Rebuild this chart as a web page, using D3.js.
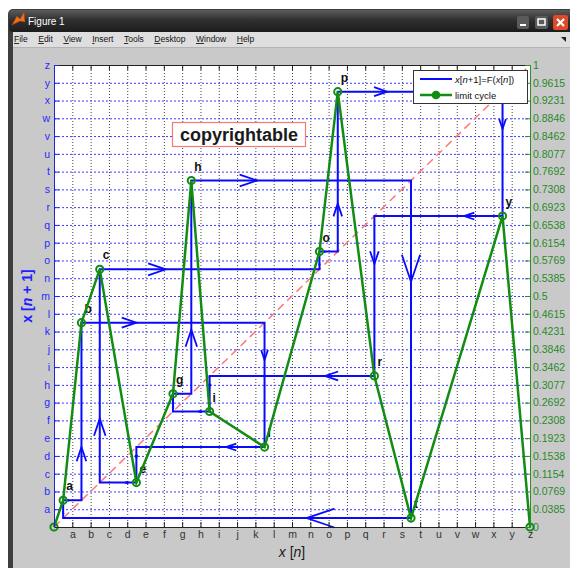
<!DOCTYPE html>
<html>
<head>
<meta charset="utf-8">
<script src="https://cdn.jsdelivr.net/npm/d3@7"></script>
<style>
    body { margin: 0; background: #fff; }
    svg { display: block; font-family: "Liberation Sans", Arial, sans-serif; }
</style>
</head>
<body>
<svg id="fig" width="570" height="568"></svg>
<script>
// Tick labels: letters on the bottom/left axes, k/26 on the right axis.
const LETTERS = ["a", "b", "c", "d", "e", "f", "g", "h", "i", "j", "k", "l", "m",
    "n", "o", "p", "q", "r", "s", "t", "u", "v", "w", "x", "y", "z"];
const RIGHT_TICKS = ["0", "0.0385", "0.0769", "0.1154", "0.1538", "0.1923", "0.2308",
    "0.2692", "0.3077", "0.3462", "0.3846", "0.4231", "0.4615", "0.5", "0.5385",
    "0.5769", "0.6154", "0.6538", "0.6923", "0.7308", "0.7692", "0.8077", "0.8462",
    "0.8846", "0.9231", "0.9615", "1"];

// Break points of the map F (green curve), in letter units.
const cycleX = [0, 0.5, 1.5, 2.5, 4.5, 6.5, 7.5, 8.5, 11.5, 14.5, 15.5, 17.5, 19.5, 24.5, 26];
const cycleY = [0, 1.5, 11.5, 14.5, 2.5, 7.5, 19.5, 6.5, 4.5, 15.5, 24.5, 8.5, 0.5, 17.5, 0];
const cycleNames = ["", "a", "b", "c", "e", "g", "h", "i", "l", "o", "p", "r", "t", "y", ""];

const MENU = ["File", "Edit", "View", "Insert", "Tools", "Desktop", "Window", "Help"];

const svg = d3.select("#fig");

// ---- window chrome ----
const defs = svg.append("defs");
const grad = defs.append("linearGradient").attr("id", "titleGrad")
    .attr("x1", 0).attr("y1", 0).attr("x2", 0).attr("y2", 1);
grad.append("stop").attr("offset", "0%").attr("stop-color", "#5c5c5c");
grad.append("stop").attr("offset", "45%").attr("stop-color", "#303030");
grad.append("stop").attr("offset", "100%").attr("stop-color", "#1c1c1c");

svg.append("rect").attr("x", 8).attr("y", 9).attr("width", 570).attr("height", 570)
    .attr("rx", 5).attr("fill", "#3e3e3e");
svg.append("rect").attr("x", 9).attr("y", 10).attr("width", 570).attr("height", 22)
    .attr("rx", 4).attr("fill", "url(#titleGrad)");
svg.append("rect").attr("x", 13).attr("y", 32).attr("width", 560).attr("height", 15)
    .attr("fill", "#dedede");
svg.append("rect").attr("x", 13).attr("y", 47).attr("width", 560).attr("height", 530)
    .attr("fill", "#c9c9c9");
svg.append("line").attr("x1", 13).attr("x2", 570).attr("y1", 47.5).attr("y2", 47.5)
    .attr("stroke", "#b4b4b4");

// MATLAB icon
svg.append("path").attr("d", "M12,25 L17,16 L20,19 L24,12 L25,22 L20,21 Z")
    .attr("fill", "#e8721c").attr("stroke", "#b03a10").attr("stroke-width", 0.6);
svg.append("text").attr("x", 28).attr("y", 25).attr("fill", "#fff")
    .style("font-size", "10px").text("Figure 1");

// window buttons
svg.append("rect").attr("x", 517).attr("y", 16).attr("width", 12).attr("height", 13)
    .attr("rx", 2).attr("fill", "#5a5a5a");
svg.append("rect").attr("x", 520).attr("y", 24).attr("width", 6).attr("height", 2).attr("fill", "#fff");
svg.append("rect").attr("x", 535).attr("y", 16).attr("width", 13).attr("height", 13)
    .attr("rx", 2).attr("fill", "#5a5a5a");
svg.append("rect").attr("x", 538).attr("y", 19).attr("width", 7).attr("height", 6)
    .attr("fill", "none").attr("stroke", "#fff").attr("stroke-width", 1.5);
svg.append("rect").attr("x", 553).attr("y", 15).attr("width", 15).attr("height", 15)
    .attr("rx", 2).attr("fill", "#dc4a2a");
svg.append("path").attr("d", "M557,19 L564,26 M564,19 L557,26")
    .attr("stroke", "#fff").attr("stroke-width", 2.2);

// menu bar
let mx = 14;
MENU.forEach(m => {
    const t = svg.append("text").attr("x", mx).attr("y", 42).attr("fill", "#111")
        .style("font-size", "8.5px");
    t.append("tspan").style("text-decoration", "underline").text(m[0]);
    t.append("tspan").text(m.slice(1));
    mx += t.node().getComputedTextLength() + 10.5;
});
svg.append("path").attr("d", "M561,37 L566,37 L566,42 Z").attr("fill", "#222");

// ---- axes ----
const x = d3.scaleLinear().domain([0, 26]).range([54, 530]);
const y = d3.scaleLinear().domain([0, 26]).range([527, 65]);

const plot = svg.append("g");
plot.append("rect").attr("x", x(0)).attr("y", y(26))
    .attr("width", x(26) - x(0)).attr("height", y(0) - y(26)).attr("fill", "#fff");

// grid: dotted black verticals, dotted blue horizontals
plot.append("g").selectAll("line").data(d3.range(1, 26)).join("line")
    .attr("x1", d => x(d) + 0.5).attr("x2", d => x(d) + 0.5)
    .attr("y1", y(0)).attr("y2", y(26))
    .attr("stroke", "#444").attr("stroke-width", 1).attr("stroke-dasharray", "1,2");
plot.append("g").selectAll("line").data(d3.range(1, 26)).join("line")
    .attr("y1", d => y(d) + 0.5).attr("y2", d => y(d) + 0.5)
    .attr("x1", x(0)).attr("x2", x(26))
    .attr("stroke", "#3b3bff").attr("stroke-width", 1).attr("stroke-dasharray", "2,2");

// identity diagonal
plot.append("line")
    .attr("x1", x(0)).attr("y1", y(0)).attr("x2", x(26)).attr("y2", y(26))
    .attr("stroke", "#ff7878").attr("stroke-width", 1.5).attr("stroke-dasharray", "8,5");

// cobweb: iterate the map from point a until it returns
const F = new Map(cycleX.map((v, i) => [v, cycleY[i]]));
const start = cycleX[1];
const web = [[start, F.get(start)]];
let cur = start;
do {
    const v = F.get(cur);
    web.push([v, v]);
    web.push([v, F.get(v)]);
    cur = v;
} while (cur !== start && web.length < 200);

plot.append("path").datum(web)
    .attr("fill", "none").attr("stroke", "#0a0aff").attr("stroke-width", 2)
    .attr("d", d3.line().x(d => x(d[0])).y(d => y(d[1])));

// chevrons a quarter of the way along each step, sized by the step length
const arrows = d3.pairs(web).map(([p, q]) => {
    const x0 = x(p[0]), y0 = y(p[1]), x1 = x(q[0]), y1 = y(q[1]);
    const len = Math.hypot(x1 - x0, y1 - y0);
    const ux = (x1 - x0) / len, uy = (y1 - y0) / len;
    const tx = x0 + ux * len * 0.30, ty = y0 + uy * len * 0.30;
    const a = len * 0.08, w = len * 0.027;
    return `M${tx - ux * a - uy * w},${ty - uy * a + ux * w}L${tx},${ty}` +
        `L${tx - ux * a + uy * w},${ty - uy * a - ux * w}`;
});
plot.append("g").selectAll("path").data(arrows).join("path")
    .attr("d", d => d).attr("fill", "none")
    .attr("stroke", "#0a0aff").attr("stroke-width", 1.8);

// point names
plot.append("g").selectAll("text").data(cycleX.map((v, i) => i).filter(i => cycleNames[i]))
    .join("text")
    .attr("x", i => x(cycleX[i]) + 3).attr("y", i => y(cycleY[i]) - 10)
    .attr("fill", "#111").style("font-size", "12px").style("font-weight", "bold")
    .text(i => cycleNames[i]);

// limit cycle curve with open circles
const green = "#138c13";
plot.append("path").datum(cycleX.map((v, i) => [v, cycleY[i]]))
    .attr("fill", "none").attr("stroke", green).attr("stroke-width", 2.5)
    .attr("d", d3.line().x(d => x(d[0])).y(d => y(d[1])));
plot.append("g").selectAll("circle").data(cycleX.map((v, i) => [v, cycleY[i]])).join("circle")
    .attr("cx", d => x(d[0])).attr("cy", d => y(d[1])).attr("r", 3.6)
    .attr("fill", "none").attr("stroke", green).attr("stroke-width", 2);

// axes
const axBottom = plot.append("g").attr("transform", `translate(0,${y(0)})`)
    .call(d3.axisBottom(x).tickValues(d3.range(1, 27)).tickFormat(d => LETTERS[d - 1])
        .tickSizeInner(-5).tickSizeOuter(0).tickPadding(4));
axBottom.select(".domain").attr("stroke", "#222");
axBottom.selectAll(".tick line").attr("stroke", "#222");
axBottom.selectAll("text").attr("fill", "#333").style("font-size", "10.5px")
    .style("font-family", "'Liberation Sans', Arial, sans-serif");

const axTop = plot.append("g").attr("transform", `translate(0,${y(26)})`)
    .call(d3.axisTop(x).tickValues(d3.range(1, 26)).tickFormat("")
        .tickSizeInner(-5).tickSizeOuter(0));
axTop.select(".domain").attr("stroke", "#222");
axTop.selectAll(".tick line").attr("stroke", "#222");

const axLeft = plot.append("g").attr("transform", `translate(${x(0)},0)`)
    .call(d3.axisLeft(y).tickValues(d3.range(1, 27)).tickFormat(d => LETTERS[d - 1])
        .tickSizeInner(-5).tickSizeOuter(0).tickPadding(4));
axLeft.select(".domain").attr("stroke", "#2020e0");
axLeft.selectAll(".tick line").attr("stroke", "#2020ff");
axLeft.selectAll("text").attr("fill", "#2a2aff").style("font-size", "10.5px")
    .style("font-family", "'Liberation Sans', Arial, sans-serif");

const axRight = plot.append("g").attr("transform", `translate(${x(26)},0)`)
    .call(d3.axisRight(y).tickValues(d3.range(0, 27)).tickFormat(d => RIGHT_TICKS[d])
        .tickSizeInner(-5).tickSizeOuter(0).tickPadding(3));
axRight.select(".domain").attr("stroke", "#2e8b2e");
axRight.selectAll(".tick line").attr("stroke", "#2e8b2e");
axRight.selectAll("text").attr("fill", "#2a8a2a").style("font-size", "10.5px")
    .style("font-family", "'Liberation Sans', Arial, sans-serif");

// axis labels
const xl = svg.append("text").attr("x", (x(0) + x(26)) / 2).attr("y", 557)
    .attr("text-anchor", "middle").attr("fill", "#1a1a1a").style("font-size", "14px");
xl.append("tspan").style("font-style", "italic").text("x");
xl.append("tspan").text(" [");
xl.append("tspan").style("font-style", "italic").text("n");
xl.append("tspan").text("]");

const yl = svg.append("text")
    .attr("transform", `translate(32,${(y(0) + y(26)) / 2}) rotate(-90)`)
    .attr("text-anchor", "middle").attr("fill", "#2020ff")
    .style("font-size", "14px").style("font-weight", "bold");
yl.append("tspan").text("x [");
yl.append("tspan").style("font-style", "italic").text("n");
yl.append("tspan").text(" + 1]");

// legend
const lg = svg.append("g");
lg.append("rect").attr("x", 413.5).attr("y", 70.5).attr("width", 114).attr("height", 33)
    .attr("fill", "#fff").attr("stroke", "#333");
lg.append("line").attr("x1", 420).attr("x2", 452).attr("y1", 79).attr("y2", 79)
    .attr("stroke", "#0a0aff").attr("stroke-width", 2);
const lt = lg.append("text").attr("x", 455).attr("y", 82.5).attr("fill", "#111").style("font-size", "9.5px");
[["x", 1], ["[", 0], ["n", 1], ["+1]=F(", 0], ["x", 1], ["[", 0], ["n", 1], ["])", 0]]
    .forEach(([s, it]) => lt.append("tspan").style("font-style", it ? "italic" : "normal").text(s));
lg.append("line").attr("x1", 420).attr("x2", 452).attr("y1", 95).attr("y2", 95)
    .attr("stroke", green).attr("stroke-width", 2.5);
lg.append("circle").attr("cx", 436).attr("cy", 95).attr("r", 3.6)
    .attr("fill", green).attr("stroke", green).attr("stroke-width", 1.5);
lg.append("text").attr("x", 455).attr("y", 98.5).attr("fill", "#111")
    .style("font-size", "9.5px").text("limit cycle");

// watermark box
svg.append("rect").attr("x", 172.5).attr("y", 122.5).attr("width", 133).attr("height", 24)
    .attr("fill", "#fff").attr("stroke", "#f07a7a").attr("stroke-width", 1.2);
svg.append("text").attr("x", 239).attr("y", 141).attr("text-anchor", "middle")
    .attr("fill", "#1a1a1a").style("font-size", "18px").style("font-weight", "bold")
    .text("copyrightable");
</script>
</body>
</html>
